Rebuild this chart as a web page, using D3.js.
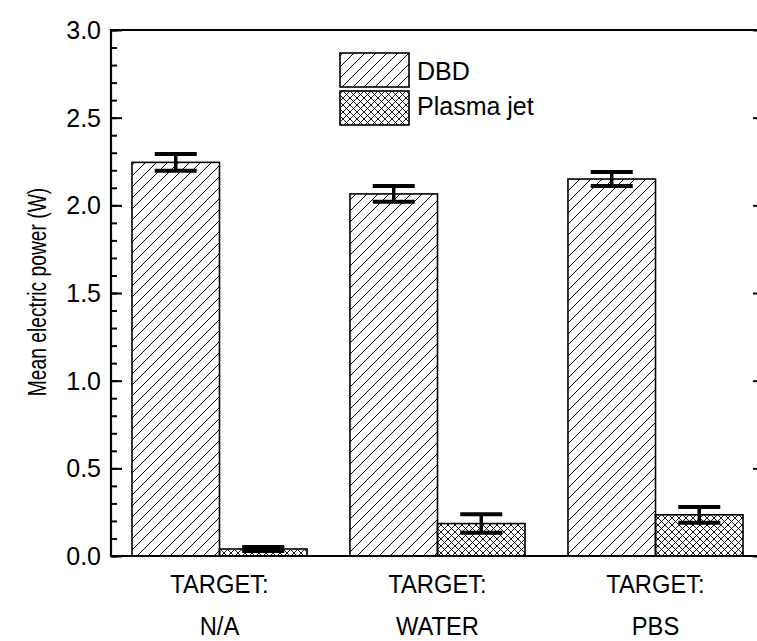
<!DOCTYPE html>
<html><head><meta charset="utf-8">
<script src="https://cdn.jsdelivr.net/npm/d3@7"></script>
<style>html,body{margin:0;background:#fff;overflow:hidden}svg{display:block}text{font-family:"Liberation Sans",Arial,sans-serif;fill:#000}</style>
</head><body><svg id="c" width="757" height="641"></svg>
<script>
const groups = ["N/A", "WATER", "PBS"];
const series = ["DBD", "Plasma jet"];
const dbdValues = [2.245, 2.065, 2.15];
const dbdErrors = [0.048, 0.045, 0.04];
const jetValues = [0.04, 0.185, 0.235];
const jetErrors = [0.012, 0.053, 0.045];
const yTicks = [0.0, 0.5, 1.0, 1.5, 2.0, 2.5, 3.0];

const svg = d3.select("#c");
const L = 111, R = 766, T = 30, B = 556;
const y = d3.scaleLinear().domain([0, 3]).range([B, T]);
const x0 = d3.scaleBand().domain(groups).range([110.5, 764.5]).paddingInner(0.197).paddingOuter(0.0985);
const x1 = d3.scaleBand().domain(series).range([0, x0.bandwidth()]);

const defs = svg.append("defs");
const p1 = defs.append("pattern").attr("id","diag").attr("patternUnits","userSpaceOnUse")
  .attr("width",11).attr("height",11);
p1.append("path").attr("d","M-1,1 l2,-2 M0,11 l11,-11 M10,12 l2,-2").attr("stroke","#000").attr("stroke-width",1);
const p2 = defs.append("pattern").attr("id","cross").attr("patternUnits","userSpaceOnUse")
  .attr("width",7).attr("height",7);
p2.append("path").attr("d","M-1,1 l2,-2 M0,7 l7,-7 M6,8 l2,-2 M-1,6 l2,2 M0,0 l7,7 M6,-1 l2,2").attr("stroke","#000").attr("stroke-width",0.9);

const data = groups.map((g,i)=>[
  {g, s: series[0], v: dbdValues[i], e: dbdErrors[i], fill: "url(#diag)"},
  {g, s: series[1], v: jetValues[i], e: jetErrors[i], fill: "url(#cross)"}
]).flat();

svg.selectAll("rect.bar").data(data).enter().append("rect").attr("class","bar")
  .attr("x", d => x0(d.g) + x1(d.s))
  .attr("y", d => y(d.v))
  .attr("width", x1.bandwidth())
  .attr("height", d => y(0) - y(d.v))
  .attr("fill", d => d.fill).attr("stroke","#000").attr("stroke-width",1.6);

const cx = d => x0(d.g)+x1(d.s)+x1.bandwidth()/2;
const eb = svg.selectAll("g.err").data(data).enter().append("g").attr("class","err");
eb.append("line").attr("x1", cx).attr("x2", cx)
  .attr("y1", d=>y(d.v+d.e)).attr("y2", d=>y(d.v-d.e)).attr("stroke","#000").attr("stroke-width",3.5);
[1,-1].forEach(sg=>{
  eb.append("line").attr("x1", d=>cx(d)-21).attr("x2", d=>cx(d)+21)
    .attr("y1", d=>y(d.v+sg*d.e)).attr("y2", d=>y(d.v+sg*d.e)).attr("stroke","#000").attr("stroke-width",4);
});

// Axes ticks
const minor = d3.range(0, 3.0001, 0.1);
const left = svg.append("g").attr("transform",`translate(${L},0)`);
left.append("g").call(d3.axisRight(y).tickValues(minor).tickSize(6).tickFormat("")).call(g=>g.select(".domain").remove());
left.append("g").call(d3.axisRight(y).tickValues(yTicks).tickSize(11).tickFormat("")).call(g=>g.select(".domain").remove());
left.selectAll("line").attr("stroke-width",2);

const right = svg.append("g").attr("transform",`translate(${R},0)`);
right.call(d3.axisLeft(y).tickValues(yTicks).tickSize(13).tickFormat("")).call(g=>g.select(".domain").remove());
right.selectAll("line").attr("stroke-width",2);

// Tick labels
svg.append("g").selectAll("text").data(yTicks).enter().append("text")
  .attr("x", 101).attr("y", d => y(d) + 9).attr("text-anchor","end")
  .style("font-size","25px").text(d3.format(".1f"));

// Spines (right spine lies outside the window)
svg.append("line").attr("x1",L).attr("x2",L).attr("y1",T-1.1).attr("y2",B+1.1).attr("stroke","#000").attr("stroke-width",2.2);
svg.append("line").attr("x1",L).attr("x2",R).attr("y1",T).attr("y2",T).attr("stroke","#000").attr("stroke-width",2.2);
svg.append("line").attr("x1",L).attr("x2",R).attr("y1",B).attr("y2",B).attr("stroke","#000").attr("stroke-width",2.2);

// X labels
groups.forEach(g=>{
  const c = x0(g) + x0.bandwidth()/2;
  svg.append("text").attr("transform",`translate(${c},593) scale(0.93,1)`).attr("text-anchor","middle").style("font-size","25.5px").text("TARGET:");
  svg.append("text").attr("transform",`translate(${c},635) scale(0.93,1)`).attr("text-anchor","middle").style("font-size","25.5px").text(g);
});

// Y label
svg.append("text").attr("transform","translate(46,292) rotate(-90) scale(0.74,1)").attr("text-anchor","middle")
  .style("font-size","26px").text("Mean electric power (W)");

// Legend
const leg = svg.append("g");
series.forEach((s,i)=>{
  leg.append("rect").attr("x",340).attr("y",53+i*38).attr("width",69).attr("height",34)
    .attr("fill", i===0?"url(#diag)":"url(#cross)").attr("stroke","#000").attr("stroke-width",1.6);
  leg.append("text").attr("x",417).attr("y",80+i*35).style("font-size","25px").text(s);
});
</script></body></html>
